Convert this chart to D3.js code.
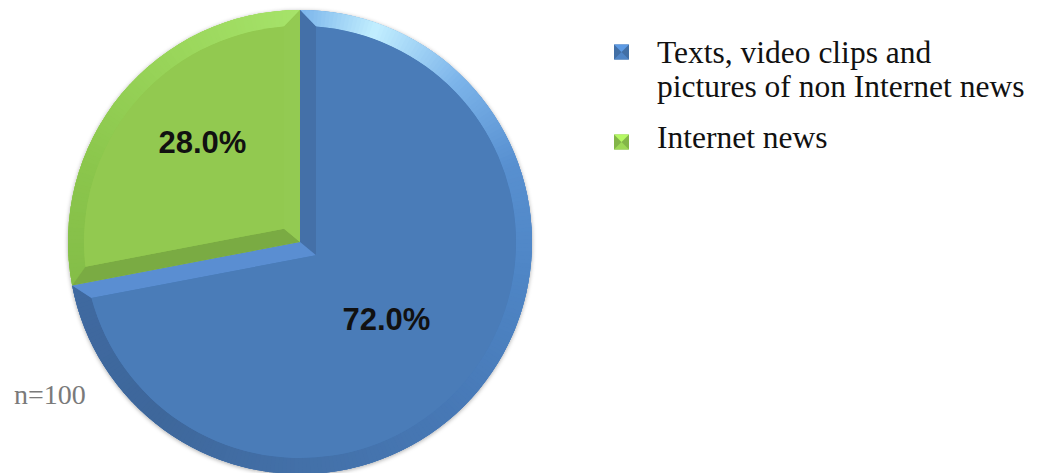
<!DOCTYPE html>
<html>
<head>
<meta charset="utf-8">
<script src="https://cdn.jsdelivr.net/npm/d3@7/dist/d3.min.js"></script>
<style>
  html, body { margin: 0; padding: 0; background: #ffffff; }
  svg { display: block; }
</style>
</head>
<body>
<svg id="chart" width="1045" height="473"></svg>
<script>
// ---- data ----
const categories = ["Texts, video clips and pictures of non Internet news", "Internet news"];
const values = [72.0, 28.0];
const valueLabels = ["72.0%", "28.0%"];
const legendLines = [["Texts, video clips and", "pictures of non Internet news"], ["Internet news"]];
const sampleNote = "n=100";

// ---- styles / layout ----
const faceColors = ["#4a7cb8", "#92c950"];
const startFacetColors = ["#4470a8", "#7aab43"];
const endFacetColors = ["#5a8ed2", "#93ca52"];
const rimStops = [
  [[0, "#78b2ea"], [20, "#c2eeff"], [45, "#7cb4ea"], [70, "#5890d0"], [100, "#4e85c5"], [140, "#4778b5"], [180, "#4370a8"], [220, "#3e679b"], [260, "#3f69a0"]],
  [[259, "#84bd48"], [290, "#8bc64c"], [330, "#9bd75c"], [360, "#a6e36a"]]
];
const labelRadius = [116, 141];
const labelOffset = [[-3, 3], [11, -10]];

const cx = 300, cy = 242, R = 232, B = 16;
const svg = d3.select("#chart");
const defs = svg.append("defs");
const flt = defs.append("filter").attr("id", "shadow").attr("x", "-10%").attr("y", "-10%").attr("width", "120%").attr("height", "120%");
flt.append("feDropShadow").attr("dx", 0).attr("dy", 1).attr("stdDeviation", 2).attr("flood-color", "#000").attr("flood-opacity", 0.35);

const pie = d3.pie().sort(null).value(d => d);
const arcs = pie(values);
const arcGen = d3.arc().innerRadius(0).outerRadius(R);

const g = svg.append("g").attr("transform", `translate(${cx},${cy})`);
g.append("g").attr("filter", "url(#shadow)")
  .selectAll("path").data(arcs).join("path")
  .attr("d", arcGen).attr("fill", (d, i) => faceColors[i]);

const pt = (r, a) => [r * Math.sin(a), -r * Math.cos(a)];
const Ri = R - B;
const delta = Math.asin(B / Ri);

arcs.forEach((d, i) => {
  const a0 = d.startAngle, a1 = d.endAngle;
  const th = a1 - a0, mid = (a0 + a1) / 2;
  const V = pt(B / Math.sin(th / 2), mid);
  const p0o = pt(R, a0), p1o = pt(R, a1), p0i = pt(Ri, a0 + delta), p1i = pt(Ri, a1 - delta);

  const rim = d3.path();
  rim.moveTo(...p0o);
  rim.arc(0, 0, R, a0 - Math.PI / 2, a1 - Math.PI / 2, false);
  rim.lineTo(...p1i);
  rim.arc(0, 0, Ri, a1 - delta - Math.PI / 2, a0 + delta - Math.PI / 2, true);
  rim.closePath();
  defs.append("clipPath").attr("id", "rim" + i).append("path").attr("d", rim.toString());

  const stops = rimStops[i];
  const col = d3.scaleLinear().domain(stops.map(s => s[0])).range(stops.map(s => s[1])).interpolate(d3.interpolateRgb).clamp(true);
  const segs = d3.range(a0, a1, Math.PI / 180);
  const rg = g.append("g").attr("clip-path", `url(#rim${i})`);
  rg.selectAll("path").data(segs).join("path")
    .attr("d", s => d3.arc().innerRadius(Ri - 6).outerRadius(R + 2).startAngle(s - 0.01).endAngle(Math.min(a1, s + Math.PI / 180) + 0.01)())
    .attr("fill", s => col((s + Math.PI / 360) * 180 / Math.PI));

  g.append("path").attr("d", `M0,0L${p0o}L${p0i}L${V}Z`).attr("fill", startFacetColors[i]);
  g.append("path").attr("d", `M0,0L${p1o}L${p1i}L${V}Z`).attr("fill", endFacetColors[i]);

  const face = d3.path();
  face.moveTo(...V);
  face.lineTo(...p0i);
  face.arc(0, 0, Ri, a0 + delta - Math.PI / 2, a1 - delta - Math.PI / 2, false);
  face.closePath();
  g.append("path").attr("d", face.toString()).attr("fill", faceColors[i]);

  const la = d3.arc().innerRadius(labelRadius[i]).outerRadius(labelRadius[i]);
  const c = la.centroid(d);
  g.append("text").attr("x", c[0] + labelOffset[i][0]).attr("y", c[1] + labelOffset[i][1]).attr("dy", "0.36em")
    .attr("text-anchor", "middle")
    .attr("font-family", "Liberation Sans, Arial, sans-serif")
    .attr("font-weight", "bold").attr("font-size", 31).attr("fill", "#111")
    .text(valueLabels[i]);
});

// legend
const legend = svg.append("g");
const sqSize = 15;
const legendCenterY = [52, 142];
const legendBaselines = [[62.5, 96.5], [147.5]];
legendLines.forEach((lines, i) => {
  const x = 614, y = legendCenterY[i] - sqSize / 2;
  const base = d3.color(faceColors[i]);
  const sq = legend.append("g");
  sq.append("rect").attr("x", x).attr("y", y).attr("width", sqSize).attr("height", sqSize).attr("fill", base.darker(0.3));
  sq.append("path").attr("d", `M${x},${y}L${x + sqSize},${y}L${x + sqSize / 2},${y + sqSize / 2}Z`).attr("fill", base.brighter(0.6));
  sq.append("path").attr("d", `M${x},${y + sqSize}L${x + sqSize},${y + sqSize}L${x + sqSize / 2},${y + sqSize / 2}Z`).attr("fill", base.brighter(0.2));
  const t = legend.append("text")
    .attr("font-family", "Liberation Serif, Times New Roman, serif")
    .attr("font-size", 31.5).attr("fill", "#111");
  lines.forEach((ln, j) => t.append("tspan").attr("x", 657).attr("y", legendBaselines[i][j]).text(ln));
});

svg.append("text").attr("x", 14).attr("y", 404)
  .attr("font-family", "Liberation Serif, Times New Roman, serif")
  .attr("font-size", 28).attr("fill", "#7a7a7a")
  .text(sampleNote);
</script>
</body>
</html>
